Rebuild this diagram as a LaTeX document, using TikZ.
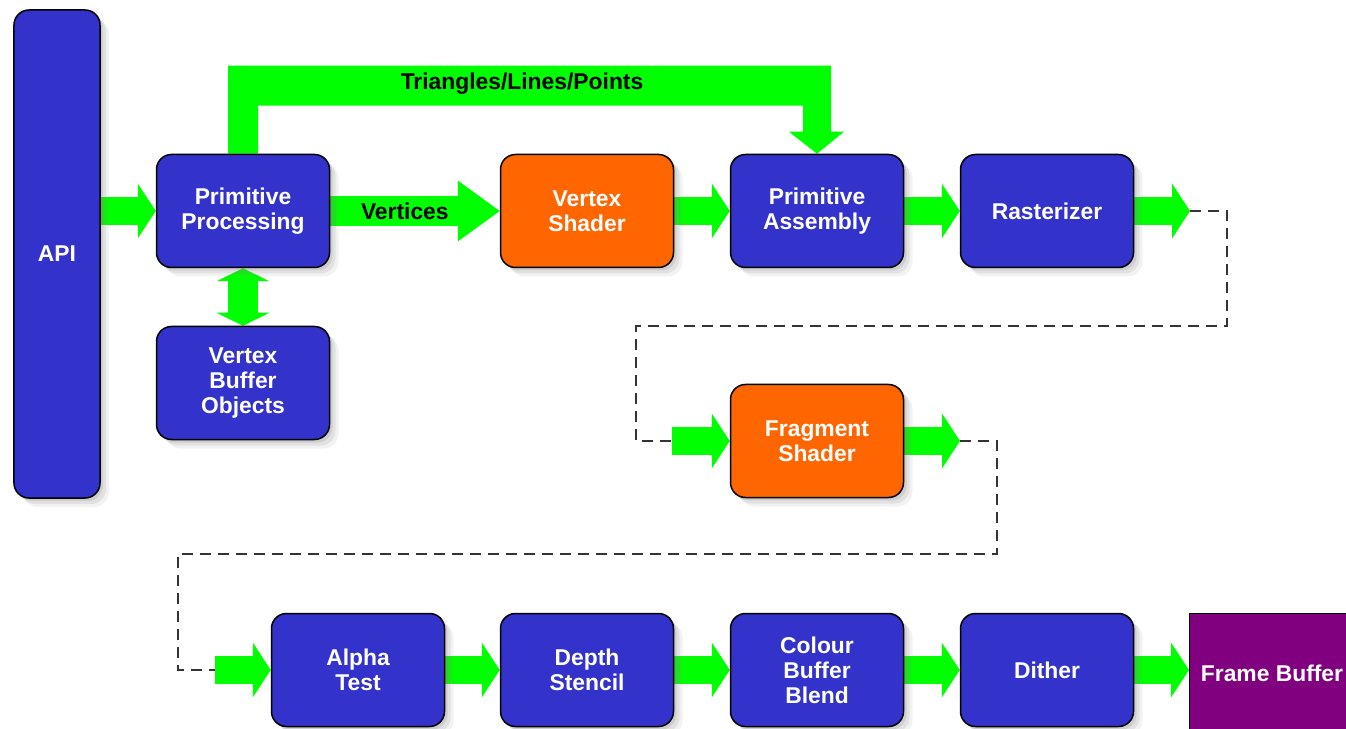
\documentclass[tikz,border=0pt]{standalone}
\usepackage{fontspec}
\setmainfont{Liberation Sans}
\usepackage{tikz}
\usetikzlibrary{arrows.meta,shadows,calc}

\definecolor{stageblue}{RGB}{51,51,204}
\definecolor{shaderorange}{RGB}{255,102,0}
\definecolor{pipegreen}{RGB}{0,255,0}
\definecolor{fbpurple}{RGB}{128,0,128}

\pgfdeclarelayer{background}
\pgfsetlayers{background,main}

\begin{document}
\begin{tikzpicture}[x=0.2mm,y=-0.2mm,
        box/.style={draw=black,line width=0.3mm,rounded corners=3mm,fill=stageblue,text=white,
            font=\bfseries\fontsize{13}{14.2}\selectfont,align=center,
            minimum width=34.6mm,minimum height=22.6mm,
            drop shadow={shadow xshift=0.6mm,shadow yshift=-0.6mm,opacity=.2},
            drop shadow={shadow xshift=1.2mm,shadow yshift=-1.2mm,opacity=.15},
            drop shadow={shadow xshift=1.8mm,shadow yshift=-1.8mm,opacity=.1}},
        shader/.style={box,fill=shaderorange},
        flow/.style={draw=pipegreen,line width=5.6mm,-{Triangle[length=3.6mm,width=11mm,line width=0pt]}},
        bus/.style={draw=black!80,line width=0.5mm,dash pattern=on 2.2mm off 1.4mm},
        lbl/.style={font=\bfseries\fontsize{13}{14.2}\selectfont,text=black}]
    \clip (0,0) rectangle (1346,729);

    \node[box,minimum width=17.2mm,minimum height=97.6mm] (api) at (57,254) {API};
    \node[box] (pp) at (243,211) {Primitive\\Processing};
    \node[box] (vbo) at (243,383) {Vertex\\Buffer\\Objects};
    \node[shader] (vs) at (587,211) {Vertex\\Shader};
    \node[box] (pa) at (817,211) {Primitive\\Assembly};
    \node[box] (rast) at (1047,211) {Rasterizer};
    \node[shader] (fs) at (817,441) {Fragment\\Shader};
    \node[box] (alpha) at (358,670) {Alpha\\Test};
    \node[box] (depth) at (587,670) {Depth\\Stencil};
    \node[box] (blend) at (817,670) {Colour\\Buffer\\Blend};
    \node[box] (dither) at (1047,670) {Dither};
    \node[draw=black,line width=0.2mm,fill=fbpurple,text=white,font=\bfseries\fontsize{13}{14.2}\selectfont,
        minimum width=33mm,minimum height=24mm] (fb) at (1272,673) {Frame Buffer};

    \coordinate (r1) at (1190,211);
    \coordinate (f0) at (672,441);
    \coordinate (f1) at (960,441);
    \coordinate (a0) at (215,670);

    \begin{pgfonlayer}{background}
        \fill[pipegreen] ($(pp.north)+(-15,0)$) -- ($(pp.north)+(-15,-88)$) -- ($(pa.north)+(14,-88)$)
            -- ($(pa.north)+(14,-22)$) -- ($(pa.north)+(27,-22)$) -- (pa.north) -- ($(pa.north)+(-28,-22)$)
            -- ($(pa.north)+(-14,-22)$) -- ($(pa.north)+(-14,-48)$) -- ($(pp.north)+(15,-48)$)
            -- ($(pp.north)+(15,0)$) -- cycle;
        \node[lbl] (tlp) at (522,84) {Triangles/Lines/Points};

        \draw[flow] (api.east |- pp.west) -- (pp.west);
        \draw[flow,line width=6mm,-{Triangle[length=8.4mm,width=12.2mm,line width=0pt]}] (pp.east)
            -- node[lbl,pos=.44] (vtx) {Vertices} (vs.west);
        \draw[flow,line width=6mm,{Triangle[length=2.6mm,width=10.6mm,line width=0pt]}-{Triangle[length=2.6mm,width=10.6mm,line width=0pt]}]
            (pp.south) -- (vbo.north);
        \draw[flow] (vs.east) -- (pa.west);
        \draw[flow] (pa.east) -- (rast.west);
        \draw[flow] (rast.east) -- (r1);
        \draw[flow] (f0) -- (fs.west);
        \draw[flow] (fs.east) -- (f1);
        \draw[flow] (a0) -- (alpha.west);
        \draw[flow] (alpha.east) -- (depth.west);
        \draw[flow] (depth.east) -- (blend.west);
        \draw[flow] (blend.east) -- (dither.west);
        \draw[flow] (dither.east) -- (dither.east -| fb.west);
    \end{pgfonlayer}

    \draw[bus] (r1) -- (1227,211) -- (1227,326) -- (636,326) |- (f0);
    \draw[bus] (f1) -- (997,441) -- (997,554) -- (178,554) |- (a0);
\end{tikzpicture}
\end{document}
